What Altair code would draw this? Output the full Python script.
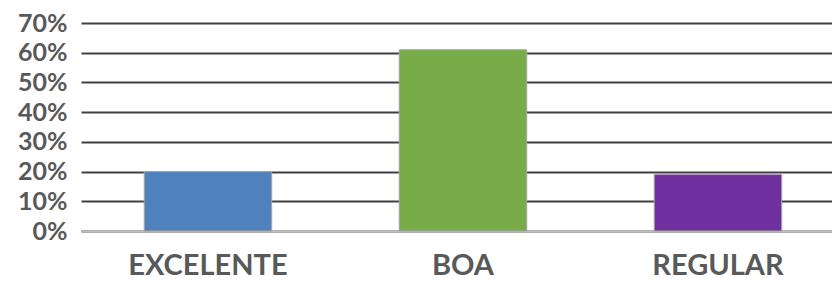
import altair as alt
import pandas as pd

categories = ["EXCELENTE", "BOA", "REGULAR"]
values = [0.20, 0.61, 0.19]
colors = ["#4F81BD", "#77AC48", "#7030A0"]

df = pd.DataFrame({"cat": categories, "val": values, "color": colors})

font = "Lato"
chart = alt.Chart(df).mark_bar(stroke="#a6a6a6", strokeWidth=1).encode(
    x=alt.X("cat:N", sort=categories, title=None,
            scale=alt.Scale(paddingInner=0.5, paddingOuter=0.2225, align=0.557),
            axis=alt.Axis(labelAngle=0, labelFont=font, labelFontSize=29, labelFontWeight="bold",
                          labelColor="#595959", labelPadding=43, labelBaseline="alphabetic",
                          ticks=False, domainColor="#bfbfbf", domainWidth=2, grid=False)),
    y=alt.Y("val:Q", title=None,
            scale=alt.Scale(domain=[0, 0.7], nice=False),
            axis=alt.Axis(format=".0%", values=[0, 0.1, 0.2, 0.3, 0.4, 0.5, 0.6, 0.7],
                          labelFont=font, labelFontSize=25, labelFontWeight="bold",
                          labelColor="#595959", labelPadding=14, ticks=False, domain=False,
                          gridColor="#404040", gridWidth=2)),
    color=alt.Color("color:N", scale=None),
).properties(
    width=751, height=208,
    padding={"left": 73, "top": 15, "right": 0, "bottom": 53},
    autosize=alt.AutoSizeParams(type="none"),
).configure_view(stroke=None)

chart.save("out.html", embed_options={"renderer": "svg", "actions": False})
